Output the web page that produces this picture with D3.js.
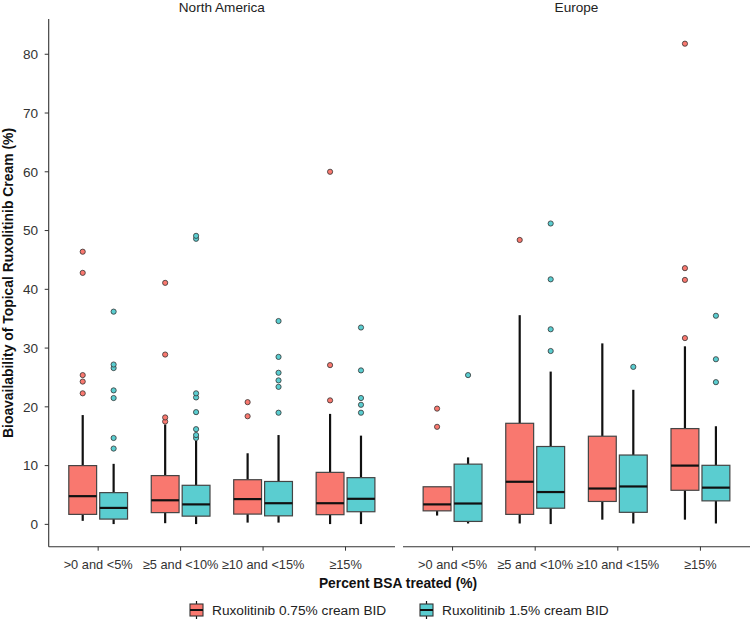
<!DOCTYPE html>
<html><head><meta charset="utf-8">
<script src="https://cdn.jsdelivr.net/npm/d3@7"></script>
<style>body{margin:0;background:#fff}svg{display:block}text{font-family:"Liberation Sans",Arial,sans-serif}</style>
</head><body>
<script>
const regions = ["North America", "Europe"];
const categories = [">0 and <5%", "≥5 and <10%", "≥10 and <15%", "≥15%"];
const groups = ["Ruxolitinib 0.75% cream BID", "Ruxolitinib 1.5% cream BID"];
const groupColors = ["#F9786F", "#5ACDD0"];
const yTicks = [0, 10, 20, 30, 40, 50, 60, 70, 80];

// [whiskerLow, q1, median, q3, whiskerHigh]
const naLow = [[0.6,1.7,4.8,10.0,18.6],[0.2,2.0,4.1,8.3,17.0],[0.3,1.75,4.3,7.6,12.1],[0.05,1.65,3.6,8.85,18.8]];
const naHigh = [[0.05,0.9,2.8,5.4,10.3],[0.05,1.4,3.4,6.65,14.2],[0.3,1.45,3.6,7.3,15.2],[0.05,2.15,4.35,7.95,15.1]];
const euLow = [[1.5,2.3,3.4,6.4,6.4],[0.15,1.7,7.25,17.2,35.6],[0.8,3.9,6.1,15.0,30.8],[0.8,5.8,10.0,16.3,30.3]];
const euHigh = [[0.15,0.5,3.55,10.25,11.4],[0.05,2.75,5.5,13.25,26.0],[0.15,2.05,6.45,11.8,22.9],[0.15,4.0,6.25,10.05,16.7]];

const naLowOut = [[22.3,24.3,25.4,42.8,46.4],[17.5,18.2,28.9,41.1],[18.4,20.8],[21.1,27.1,60.0]];
const naHighOut = [[12.9,14.7,21.5,22.8,26.6,27.2,36.2],[14.7,15.2,16.2,19.1,21.6,22.3,48.6,49.1],[19.0,23.4,24.5,25.8,28.5,34.6],[19.0,20.35,21.5,26.2,33.5]];
const euLowOut = [[16.6,19.7],[48.4],[],[31.7,41.6,43.6,81.8]];
const euHighOut = [[25.4],[29.5,33.2,41.7,51.2],[26.8],[24.2,28.1,35.5]];

const stats = [[naLow, naHigh],[euLow, euHigh]];
const outs = [[naLowOut, naHighOut],[euLowOut, euHighOut]];

const W = 751, H = 619;
const svg = d3.select("body").append("svg").attr("width", W).attr("height", H);
const plotTop = 19, plotBottom = 546.7;
const panels = [[48.7, 395], [403, 750]];

const y = d3.scaleLinear().domain([-3.8, 86]).range([plotBottom, plotTop]);

panels.forEach((p, pi) => {
  const g = svg.append("g");
  const x = d3.scalePoint().domain(categories).range([p[0] + (p[1]-p[0])*0.6/4.2, p[1] - (p[1]-p[0])*0.6/4.2]);
  const unit = (p[1]-p[0]) / 4.2;
  const dodge = d3.scaleBand().domain([0,1]).range([-unit*0.375, unit*0.375]);
  const bw = dodge.bandwidth() * 0.9;

  svg.append("text").attr("x", (p[0]+p[1])/2).attr("y", 11.5).attr("text-anchor","middle")
    .attr("font-size", 13.6).attr("fill", "#222").text(regions[pi]);

  g.append("line").attr("x1", p[0]).attr("x2", p[1]).attr("y1", plotBottom).attr("y2", plotBottom)
    .attr("stroke", "#333").attr("stroke-width", 1.1);
  categories.forEach(c => {
    g.append("line").attr("x1", x(c)).attr("x2", x(c)).attr("y1", plotBottom).attr("y2", plotBottom+4).attr("stroke","#333");
    g.append("text").attr("x", x(c)).attr("y", 569).attr("text-anchor","middle")
      .attr("font-size", 12.8).attr("fill","#333").text(c);
  });

  if (pi === 0) {
    g.append("line").attr("x1", p[0]).attr("x2", p[0]).attr("y1", plotTop).attr("y2", plotBottom)
      .attr("stroke", "#333").attr("stroke-width", 1.1);
    yTicks.forEach(t => {
      g.append("line").attr("x1", p[0]-4).attr("x2", p[0]).attr("y1", y(t)).attr("y2", y(t)).attr("stroke","#333");
      g.append("text").attr("x", 38).attr("y", y(t)).attr("dy","0.35em").attr("text-anchor","end")
        .attr("font-size", 13.6).attr("fill","#333").text(t);
    });
  }

  categories.forEach((c, ci) => {
    [0,1].forEach(gi => {
      const s = stats[pi][gi][ci];
      const xc = x(c) + dodge(gi) + dodge.bandwidth()/2;
      g.append("line").attr("x1", xc).attr("x2", xc).attr("y1", y(s[0])).attr("y2", y(s[1]))
        .attr("stroke","#111").attr("stroke-width", 2.2);
      g.append("line").attr("x1", xc).attr("x2", xc).attr("y1", y(s[3])).attr("y2", y(s[4]))
        .attr("stroke","#111").attr("stroke-width", 2.2);
      g.append("rect").attr("x", xc - bw/2).attr("width", bw).attr("y", y(s[3])).attr("height", y(s[1]) - y(s[3]))
        .attr("fill", groupColors[gi]).attr("stroke", "#444").attr("stroke-width", 1.2);
      g.append("line").attr("x1", xc - bw/2).attr("x2", xc + bw/2).attr("y1", y(s[2])).attr("y2", y(s[2]))
        .attr("stroke","#111").attr("stroke-width", 2.2);
      outs[pi][gi][ci].forEach(v => {
        g.append("circle").attr("cx", xc).attr("cy", y(v)).attr("r", 2.6)
          .attr("fill", groupColors[gi]).attr("stroke", "#333").attr("stroke-width", 0.8);
      });
    });
  });
});

svg.append("text").attr("x", 398).attr("y", 588).attr("text-anchor","middle")
  .attr("font-size", 13.8).attr("font-weight","bold").attr("fill","#111").text("Percent BSA treated (%)");
svg.append("text").attr("transform", `translate(8.5,283) rotate(-90)`).attr("text-anchor","middle")
  .attr("dy","0.35em").attr("font-size", 13.9).attr("font-weight","bold").attr("fill","#111")
  .text("Bioavailability of Topical Ruxolitinib Cream (%)");

const legX = [190, 420];
groups.forEach((gname, gi) => {
  const lg = svg.append("g").attr("transform", `translate(${legX[gi]},610)`);
  lg.append("line").attr("x1", 6.5).attr("x2", 6.5).attr("y1", -9).attr("y2", 9).attr("stroke","#111").attr("stroke-width",1.2);
  lg.append("rect").attr("x", 0).attr("y", -6).attr("width", 13).attr("height", 12)
    .attr("fill", groupColors[gi]).attr("stroke","#333").attr("stroke-width",1.1);
  lg.append("line").attr("x1", 0).attr("x2", 13).attr("y1", 0).attr("y2", 0).attr("stroke","#111").attr("stroke-width",2);
  lg.append("text").attr("x", 22).attr("y", 0).attr("dy","0.35em").attr("font-size", 13.7).attr("fill","#222").text(gname);
});
</script>
</body></html>
